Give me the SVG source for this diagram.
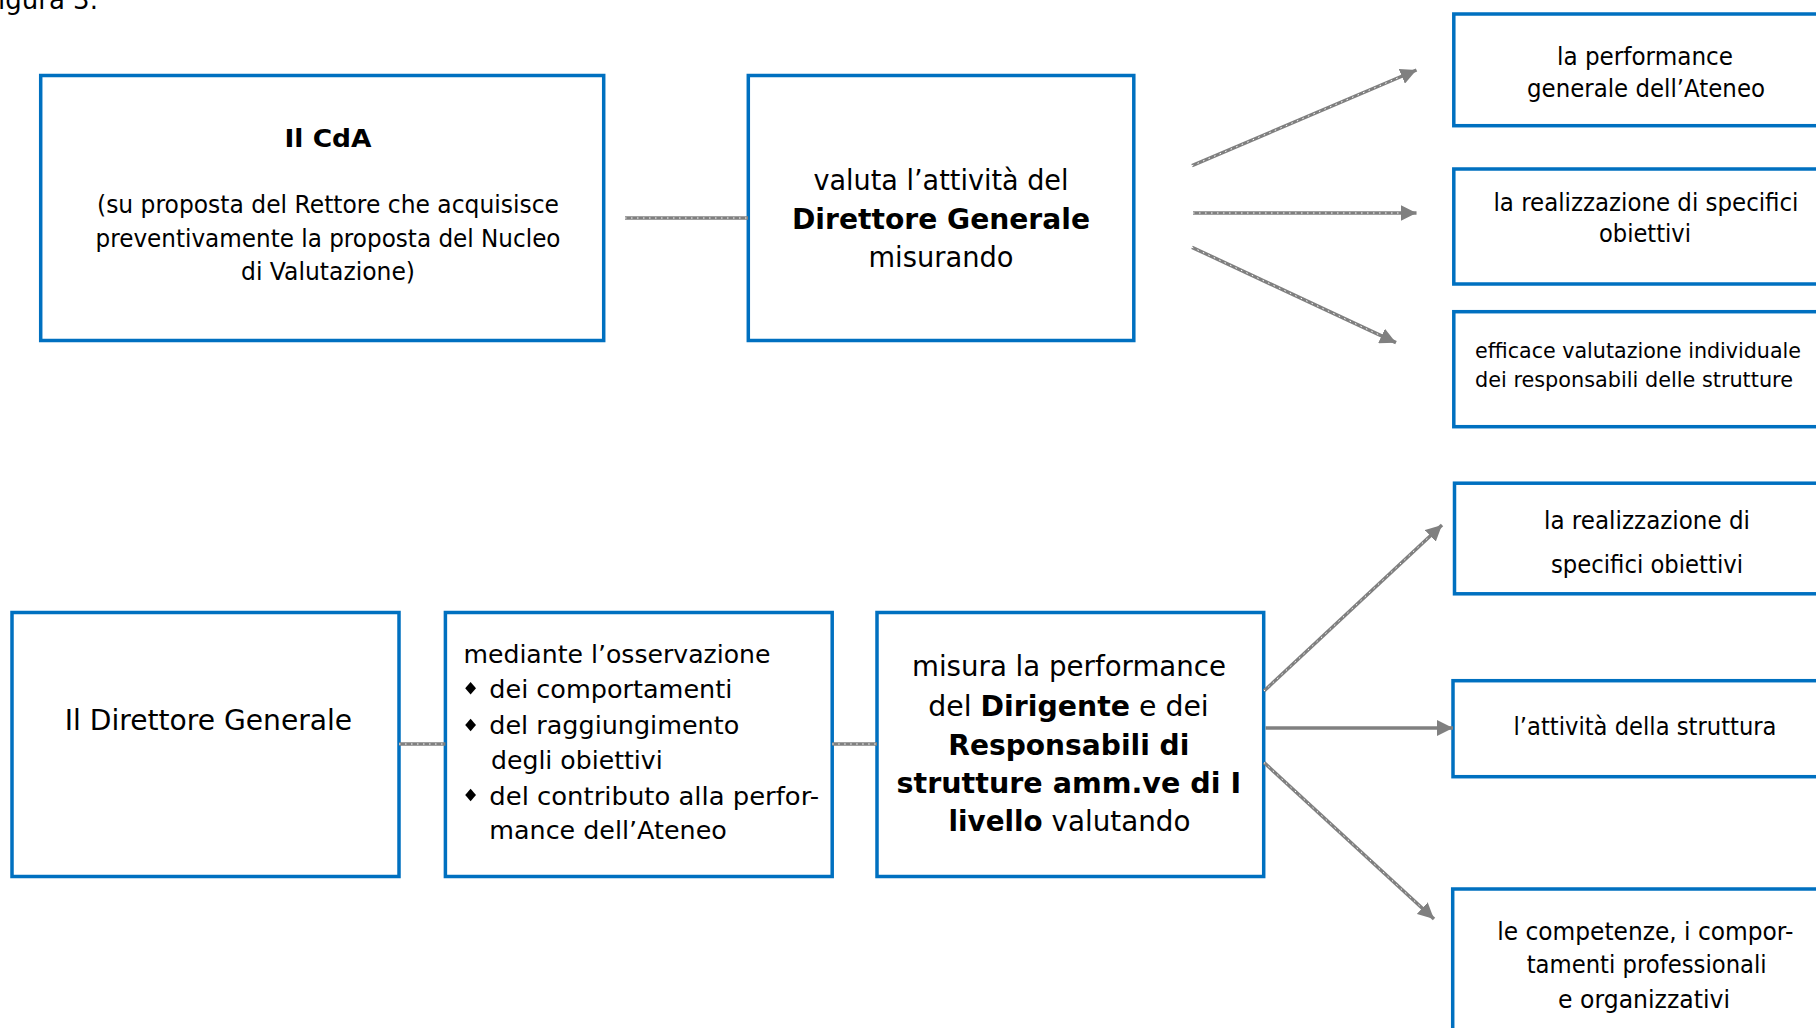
<svg xmlns="http://www.w3.org/2000/svg" width="1816" height="1028" viewBox="0 0 1816 1028">
<style>
.box{fill:#fff;stroke:#0070C0;stroke-width:3.5}
.t{font-family:"DejaVu Sans","Liberation Sans",sans-serif;fill:#000}
.b{font-weight:bold}
.c{stroke:#808080;stroke-width:3.5;fill:none}
.dots{stroke:#fff;stroke-width:1;stroke-dasharray:1.5 4.5;fill:none}
.solid{stroke:#808080;stroke-width:3.5;fill:none}
</style>
<defs>
<marker id="ah" markerUnits="userSpaceOnUse" markerWidth="18" markerHeight="16" refX="16" refY="8" orient="auto">
<path d="M0,0 L16,8 L0,16 Z" fill="#808080"/>
</marker>
</defs>
<text class="t" x="-2" y="9" font-size="26">igura 3.</text>

<g id="node-cda">
<rect class="box" x="40.7" y="75.5" width="563" height="265"/>
<text class="t b" x="328" y="147" font-size="25" text-anchor="middle" textLength="87" lengthAdjust="spacingAndGlyphs">Il CdA</text>
<text class="t" x="328" y="213" font-size="25" text-anchor="middle" textLength="462" lengthAdjust="spacingAndGlyphs">(su proposta del Rettore che acquisisce</text>
<text class="t" x="328" y="246.5" font-size="25" text-anchor="middle" textLength="465" lengthAdjust="spacingAndGlyphs">preventivamente la proposta del Nucleo</text>
<text class="t" x="328" y="279.5" font-size="25" text-anchor="middle" textLength="174" lengthAdjust="spacingAndGlyphs">di Valutazione)</text>
</g>

<g id="node-valuta">
<rect class="box" x="748.3" y="75.5" width="385.5" height="265"/>
<text class="t" x="941" y="190" font-size="28" text-anchor="middle" textLength="255" lengthAdjust="spacingAndGlyphs">valuta l’attività del</text>
<text class="t b" x="941" y="229" font-size="28" text-anchor="middle" textLength="298" lengthAdjust="spacingAndGlyphs">Direttore Generale</text>
<text class="t" x="941" y="267" font-size="28" text-anchor="middle" textLength="145" lengthAdjust="spacingAndGlyphs">misurando</text>
</g>

<g id="node-perf-ateneo">
<rect class="box" x="1453.8" y="14" width="400" height="111.7"/>
<text class="t" x="1645" y="65" font-size="24" text-anchor="middle" textLength="176" lengthAdjust="spacingAndGlyphs">la performance</text>
<text class="t" x="1646" y="97" font-size="24" text-anchor="middle" textLength="238" lengthAdjust="spacingAndGlyphs">generale dell’Ateneo</text>
</g>

<g id="node-obiettivi-top">
<rect class="box" x="1453.8" y="169" width="400" height="115"/>
<text class="t" x="1646" y="211" font-size="24" text-anchor="middle" textLength="305" lengthAdjust="spacingAndGlyphs">la realizzazione di specifici</text>
<text class="t" x="1645" y="242" font-size="24" text-anchor="middle" textLength="92" lengthAdjust="spacingAndGlyphs">obiettivi</text>
</g>

<g id="node-valutazione-ind">
<rect class="box" x="1453.8" y="311.7" width="400" height="115"/>
<text class="t" x="1475" y="358" font-size="22" textLength="326" lengthAdjust="spacingAndGlyphs">efficace valutazione individuale</text>
<text class="t" x="1475" y="387" font-size="22" textLength="318" lengthAdjust="spacingAndGlyphs">dei responsabili delle strutture</text>
</g>

<g id="node-dg">
<rect class="box" x="12" y="612.5" width="387" height="264"/>
<text class="t" x="64.7" y="730" font-size="29" textLength="287.5" lengthAdjust="spacingAndGlyphs">Il Direttore Generale</text>
</g>

<g id="node-mediante">
<rect class="box" x="445.4" y="612.5" width="386.8" height="264"/>
<text class="t" x="463.5" y="662.7" font-size="25" textLength="307" lengthAdjust="spacingAndGlyphs">mediante l’osservazione</text>
<path d="M470.6,682 L476,688.3 L470.6,694.6 L465.2,688.3 Z" fill="#000"/>
<text class="t" x="489.3" y="698.3" font-size="25" textLength="243" lengthAdjust="spacingAndGlyphs">dei comportamenti</text>
<path d="M470.6,718.7 L476,725 L470.6,731.3 L465.2,725 Z" fill="#000"/>
<text class="t" x="489.3" y="734" font-size="25" textLength="250" lengthAdjust="spacingAndGlyphs">del raggiungimento</text>
<text class="t" x="491" y="768.5" font-size="25" textLength="171.7" lengthAdjust="spacingAndGlyphs">degli obiettivi</text>
<path d="M470.6,788.7 L476,795 L470.6,801.3 L465.2,795 Z" fill="#000"/>
<text class="t" x="489.3" y="805" font-size="25" textLength="329.7" lengthAdjust="spacingAndGlyphs">del contributo alla perfor-</text>
<text class="t" x="489.3" y="839.3" font-size="25" textLength="237.5" lengthAdjust="spacingAndGlyphs">mance dell’Ateneo</text>
</g>

<g id="node-misura">
<rect class="box" x="877" y="612.5" width="386.7" height="264"/>
<text class="t" x="1069" y="676.4" font-size="29" text-anchor="middle" textLength="314" lengthAdjust="spacingAndGlyphs">misura la performance</text>
<text class="t" x="1068.5" y="715.6" font-size="29" text-anchor="middle" textLength="280.5" lengthAdjust="spacingAndGlyphs">del <tspan class="b">Dirigente</tspan> e dei</text>
<text class="t b" x="1068.8" y="754.7" font-size="29" text-anchor="middle" textLength="241" lengthAdjust="spacingAndGlyphs">Responsabili di</text>
<text class="t b" x="1068.8" y="793.1" font-size="29" text-anchor="middle" textLength="344.5" lengthAdjust="spacingAndGlyphs">strutture amm.ve di I</text>
<text class="t" x="1069.5" y="831.2" font-size="29" text-anchor="middle" textLength="242" lengthAdjust="spacingAndGlyphs"><tspan class="b">livello</tspan> valutando</text>
</g>

<g id="node-obiettivi-bottom">
<rect class="box" x="1454.5" y="483.2" width="400" height="110.6"/>
<text class="t" x="1647" y="528.7" font-size="25" text-anchor="middle" textLength="206" lengthAdjust="spacingAndGlyphs">la realizzazione di</text>
<text class="t" x="1647" y="573" font-size="25" text-anchor="middle" textLength="192" lengthAdjust="spacingAndGlyphs">specifici obiettivi</text>
</g>

<g id="node-attivita">
<rect class="box" x="1453" y="680.7" width="400" height="96"/>
<text class="t" x="1645" y="735" font-size="25" text-anchor="middle" textLength="263" lengthAdjust="spacingAndGlyphs">l’attività della struttura</text>
</g>

<g id="node-competenze">
<rect class="box" x="1452.7" y="889" width="400" height="200"/>
<text class="t" x="1645.3" y="940" font-size="25" text-anchor="middle" textLength="296" lengthAdjust="spacingAndGlyphs">le competenze, i compor-</text>
<text class="t" x="1646.7" y="972.7" font-size="25" text-anchor="middle" textLength="240" lengthAdjust="spacingAndGlyphs">tamenti professionali</text>
<text class="t" x="1644" y="1008.3" font-size="25" text-anchor="middle" textLength="172" lengthAdjust="spacingAndGlyphs">e organizzativi</text>
</g>

<g id="connectors">
<line class="c" x1="625" y1="218" x2="748" y2="218"/>
<line class="dots" x1="625" y1="218" x2="748" y2="218"/>
<line class="c" x1="1192" y1="165.7" x2="1416.5" y2="70" marker-end="url(#ah)"/>
<line class="dots" x1="1192" y1="165.7" x2="1400" y2="77"/>
<line class="c" x1="1193" y1="213" x2="1416.5" y2="213" marker-end="url(#ah)"/>
<line class="dots" x1="1193" y1="213" x2="1400" y2="213"/>
<line class="c" x1="1192" y1="247.3" x2="1396" y2="342.7" marker-end="url(#ah)"/>
<line class="dots" x1="1192" y1="247.3" x2="1381" y2="335.7"/>
<line class="c" x1="399" y1="744" x2="445.4" y2="744"/>
<line class="dots" x1="399" y1="744" x2="445.4" y2="744"/>
<line class="c" x1="832.2" y1="744" x2="877" y2="744"/>
<line class="dots" x1="832.2" y1="744" x2="877" y2="744"/>
<line class="c" x1="1264" y1="691" x2="1442" y2="525" marker-end="url(#ah)"/>
<line class="dots" x1="1264" y1="691" x2="1430" y2="536"/>
<line class="solid" x1="1265.5" y1="728" x2="1453" y2="728" marker-end="url(#ah)"/>
<line class="c" x1="1264" y1="762.5" x2="1434" y2="919" marker-end="url(#ah)"/>
<line class="dots" x1="1264" y1="762.5" x2="1422" y2="908"/>
</g>
</svg>
